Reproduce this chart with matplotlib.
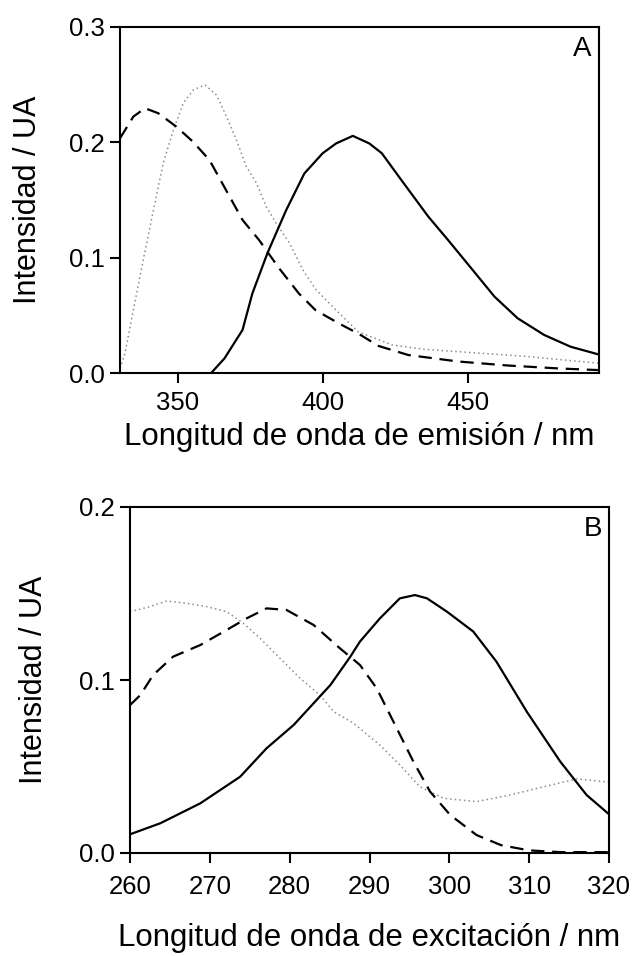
import matplotlib
matplotlib.use("Agg")
import matplotlib.pyplot as plt
from matplotlib.ticker import FormatStrFormatter

plt.rcParams["font.family"] = ["Liberation Sans", "DejaVu Sans"]

# Panel A: emission spectra
em_solid_x = [361.4, 366.0, 372.2, 375.6, 380.8, 387.2, 393.5, 399.8, 404.4, 410.2, 415.9,
              420.2, 427.0, 436.2, 443.0, 451.0, 459.0, 467.0, 476.1, 485.2, 495.0]
em_solid_y = [0.0, 0.0127, 0.0373, 0.069, 0.104, 0.141, 0.173, 0.1905, 0.199, 0.2056, 0.199,
              0.1905, 0.167, 0.1356, 0.1153, 0.0908, 0.0662, 0.0474, 0.033, 0.0228, 0.0160]

em_dash_x = [330.0, 334.6, 338.6, 343.2, 349.4, 355.1, 360.8, 366.5, 372.2, 377.9, 384.8,
             391.6, 397.3, 405.3, 412.2, 419.0, 429.3, 446.4, 463.6, 480.7, 495.0]
em_dash_y = [0.2035, 0.2223, 0.2296, 0.2252, 0.2136, 0.2006, 0.1847, 0.1587, 0.1327, 0.1153, 0.0908,
             0.069, 0.0546, 0.0431, 0.0340, 0.0235, 0.0156, 0.0100, 0.0065, 0.0040, 0.0025]

em_dot_x = [330.0, 331.7, 334.6, 338.0, 341.5, 344.9, 348.4, 351.8, 355.3, 359.3, 363.2, 366.7,
            370.1, 373.5, 377.0, 380.4, 383.8, 388.4, 393.0, 397.6, 404.4, 412.0, 423.7,
            435.0, 452.2, 469.4, 482.0, 495.0]
em_dot_y = [0.004, 0.017, 0.0546, 0.098, 0.141, 0.182, 0.2108, 0.234, 0.2455, 0.2498, 0.2411, 0.2223,
            0.2021, 0.179, 0.1647, 0.1442, 0.1298, 0.1125, 0.0893, 0.072, 0.0546, 0.0358, 0.0243,
            0.0205, 0.0175, 0.0145, 0.0115, 0.0085]

# Panel B: excitation spectra
ex_solid_x = [260.0, 263.8, 268.8, 273.8, 277.1, 280.5, 285.1, 287.6, 288.8, 291.3, 293.8, 295.7,
              297.2, 299.7, 303.0, 305.9, 309.7, 313.9, 317.2, 320.0]
ex_solid_y = [0.0108, 0.0172, 0.0287, 0.0441, 0.0605, 0.074, 0.0971, 0.1135, 0.1222, 0.1356, 0.1472,
              0.1491, 0.1472, 0.1395, 0.128, 0.1106, 0.0817, 0.0528, 0.0335, 0.0224]

ex_dash_x = [260.0, 261.3, 262.9, 265.4, 268.8, 272.1, 274.6, 277.1, 279.6, 283.0, 286.3, 288.8,
             290.9, 293.0, 295.5, 297.6, 300.1, 303.4, 306.5, 310.0, 314.0, 320.0]
ex_dash_y = [0.0855, 0.0913, 0.1029, 0.1135, 0.1202, 0.1289, 0.1356, 0.1414, 0.1405, 0.1318, 0.1183,
             0.1087, 0.0952, 0.0759, 0.0528, 0.0354, 0.022, 0.0104, 0.0045, 0.0015, 0.0005, 0.0005]

ex_dot_x = [260.0, 262.5, 264.6, 267.1, 269.6, 272.1, 274.2, 276.3, 278.8, 281.3, 283.8, 285.5,
            288.0, 291.3, 293.8, 296.3, 299.3, 303.4, 307.6, 311.8, 316.0, 320.0]
ex_dot_y = [0.1395, 0.1424, 0.1457, 0.1443, 0.1424, 0.1395, 0.1328, 0.1241, 0.1125, 0.101, 0.0913,
            0.0817, 0.075, 0.0624, 0.0509, 0.0383, 0.0316, 0.0297, 0.0335, 0.0383, 0.0428, 0.0410]

em_xticks = [350, 400, 450]
em_yticks = [0.0, 0.1, 0.2, 0.3]
ex_xticks = [260, 270, 280, 290, 300, 310, 320]
ex_yticks = [0.0, 0.1, 0.2]

SOLID = dict(color="black", linewidth=1.6, linestyle="-")
DASH = dict(color="black", linewidth=1.6, linestyle=(0, (6, 3.5)))
DOT = dict(color="0.55", linewidth=1.1, linestyle=(0, (1, 2)))


def style_axes(ax, xticks, yticks, xlim, ylim, xlabel, tag, ylabel_x, xpad, xlabelpad):
    ax.set_xlim(*xlim)
    ax.set_ylim(*ylim)
    ax.set_xticks(xticks)
    ax.set_yticks(yticks)
    ax.yaxis.set_major_formatter(FormatStrFormatter("%.1f"))
    ax.tick_params(direction="out", length=7, width=1.5, labelsize=18.5)
    ax.tick_params(axis="x", pad=xpad)
    ax.tick_params(axis="y", pad=4)
    for spine in ax.spines.values():
        spine.set_linewidth(1.5)
    ax.set_xlabel(xlabel, fontsize=22.5, labelpad=xlabelpad)
    ax.set_ylabel("Intensidad / UA", fontsize=22)
    ax.yaxis.set_label_coords(ylabel_x, 0.5)
    ax.text(0.985, 0.975, tag, transform=ax.transAxes, ha="right", va="top", fontsize=20)


fig = plt.figure(figsize=(6.35, 9.56), dpi=100)
ax_a = fig.add_axes([120 / 635, 1 - 373 / 956, 479 / 635, 346 / 956])
ax_b = fig.add_axes([130 / 635, 1 - 853 / 956, 479 / 635, 346 / 956])

ax_a.plot(em_dot_x, em_dot_y, **DOT)
ax_a.plot(em_dash_x, em_dash_y, **DASH)
ax_a.plot(em_solid_x, em_solid_y, **SOLID)
style_axes(ax_a, em_xticks, em_yticks, (330, 495), (0, 0.3),
           "Longitud de onda de emisión / nm", "A", -0.16, 6, 5)

ax_b.plot(ex_dot_x, ex_dot_y, **DOT)
ax_b.plot(ex_dash_x, ex_dash_y, **DASH)
ax_b.plot(ex_solid_x, ex_solid_y, **SOLID)
style_axes(ax_b, ex_xticks, ex_yticks, (260, 320), (0, 0.2),
           "Longitud de onda de excitación / nm", "B", -0.17, 9, 17)

fig.savefig("out.png", dpi=100)
